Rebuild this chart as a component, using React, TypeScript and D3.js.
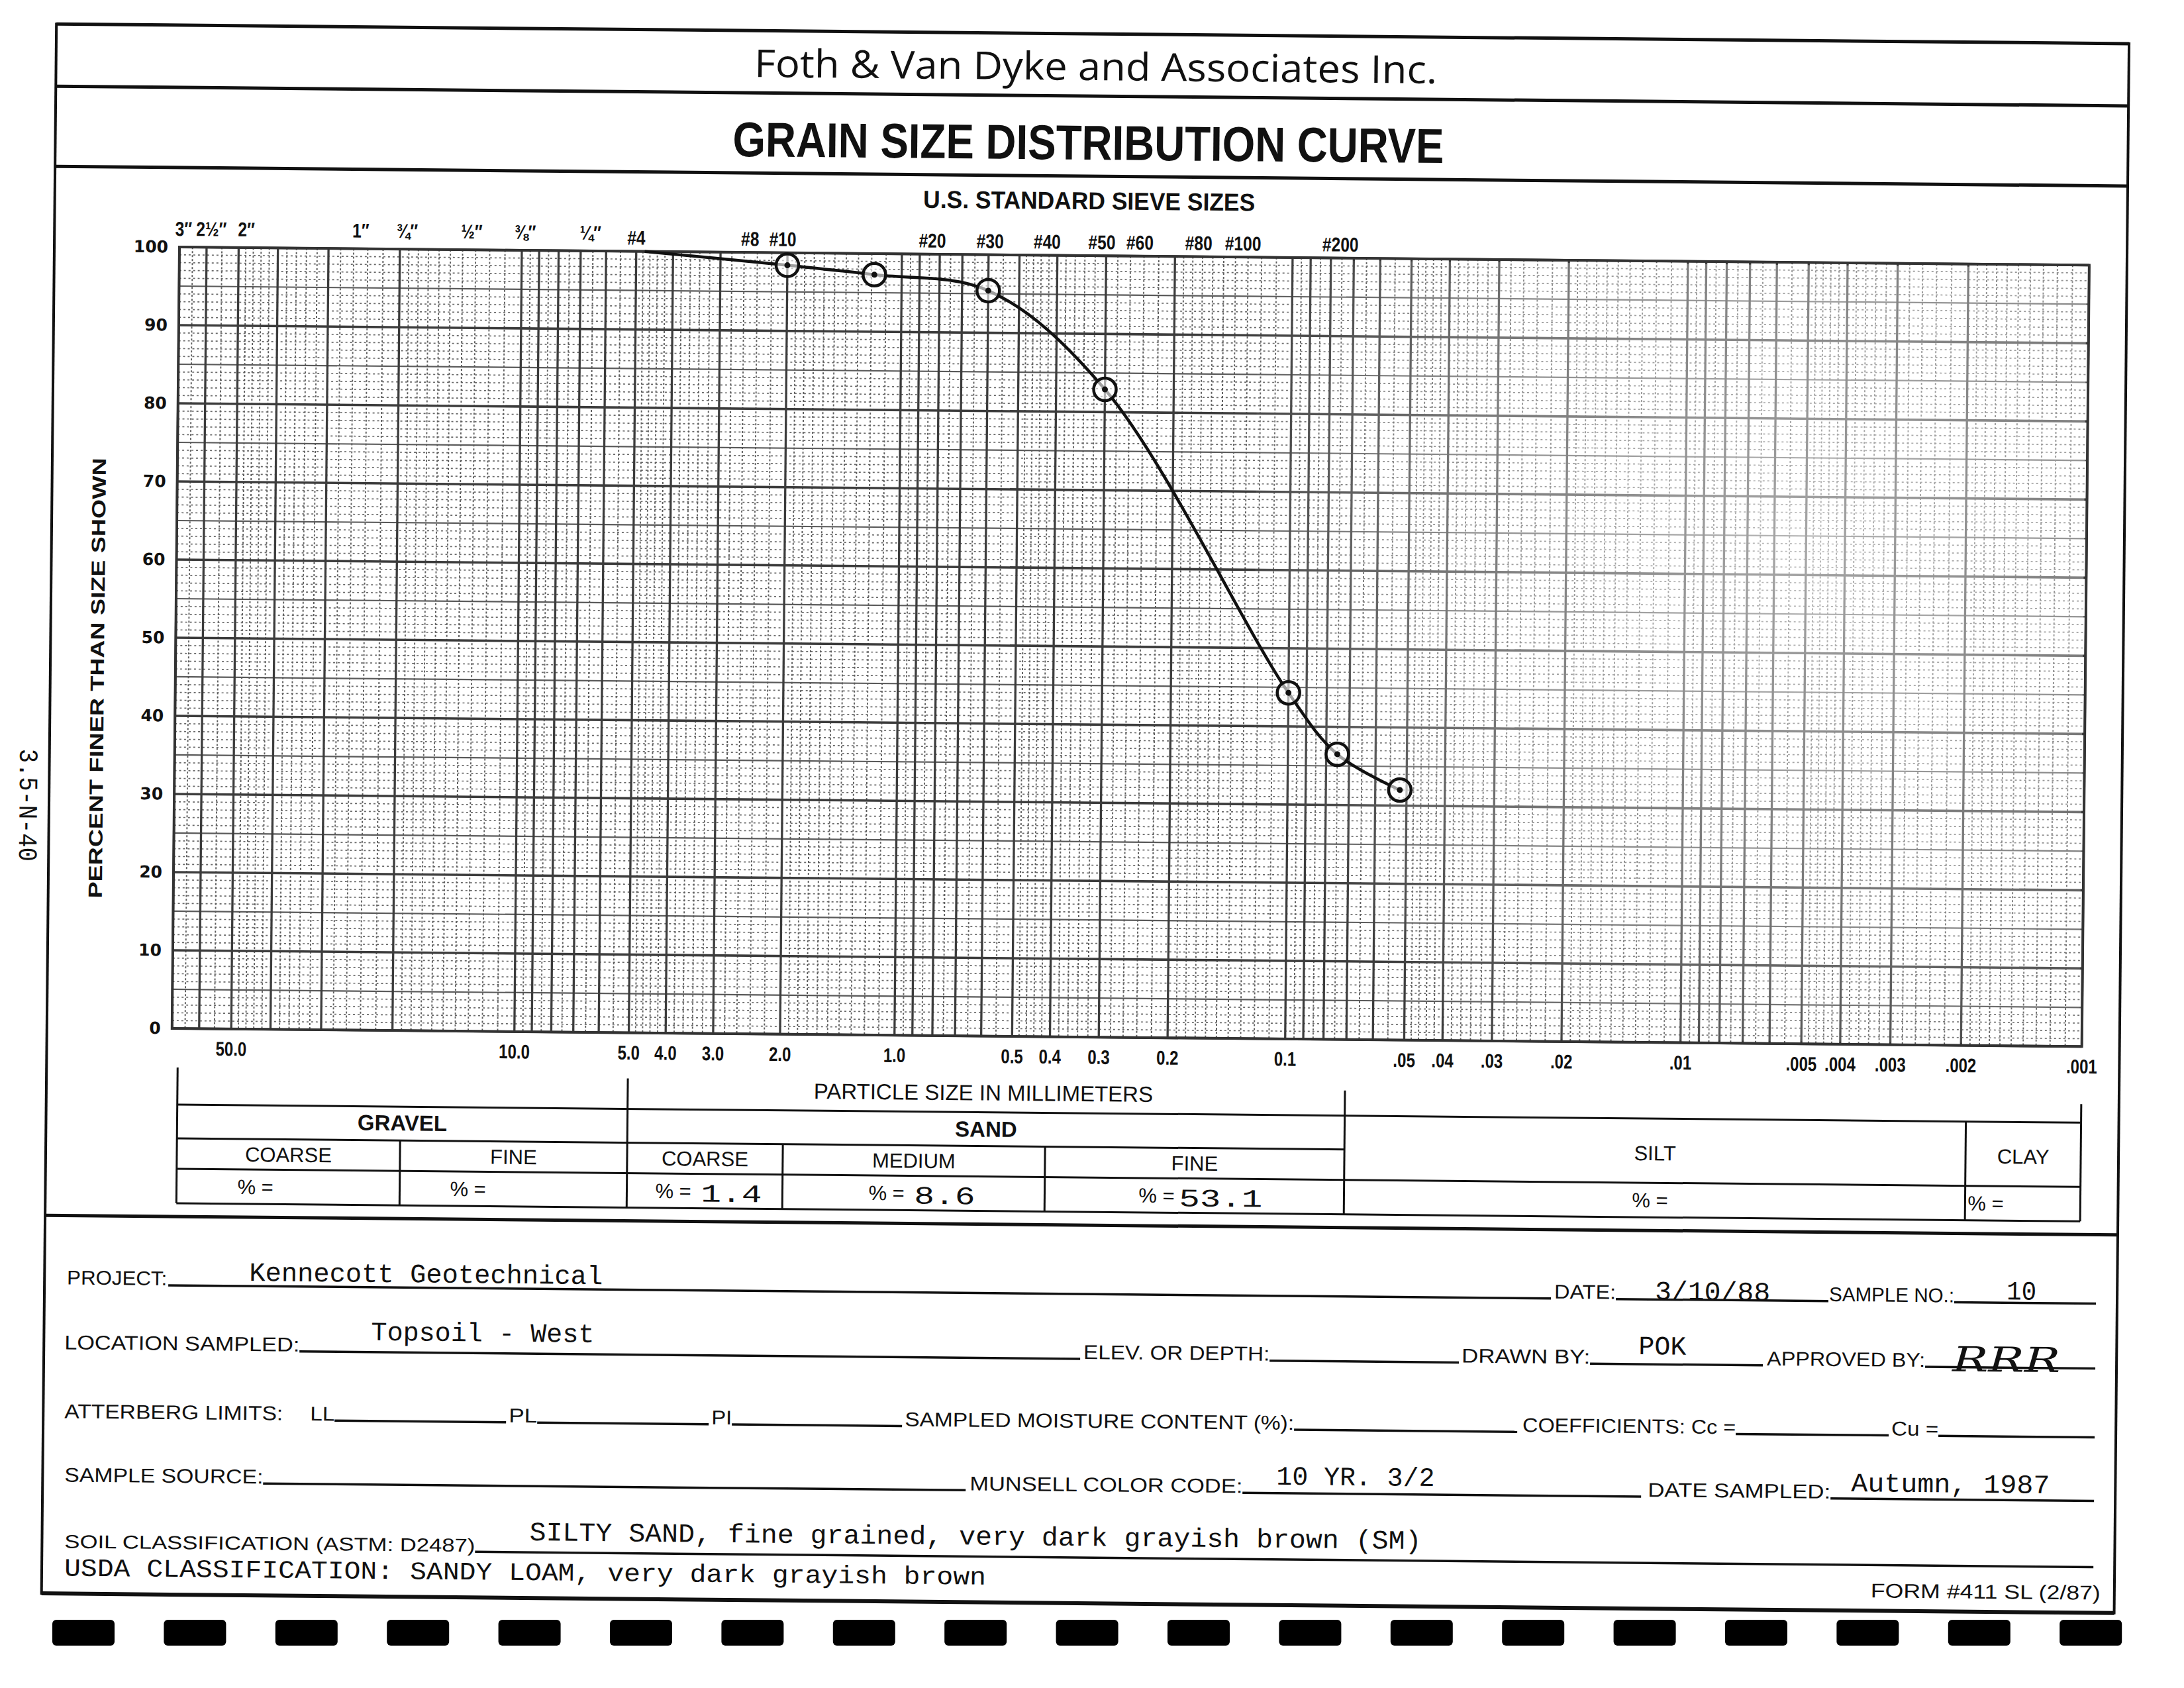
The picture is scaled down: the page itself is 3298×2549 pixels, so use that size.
import React from "react";
import * as d3 from "d3";

const W = 3298;
const H = 2549;

// ---------------- data ----------------
const sieveSizeMm = [4.75, 2.0, 1.18, 0.6, 0.3, 0.1, 0.075, 0.052];
const percentFiner = [100, 98.4, 97.3, 95.4, 82.9, 44.3, 36.5, 32.0];
const circled = [false, true, true, true, true, true, true, true];

const percentTicks = [0, 10, 20, 30, 40, 50, 60, 70, 80, 90, 100];

const mmTickValues = [50, 10, 5, 4, 3, 2, 1, 0.5, 0.4, 0.3, 0.2, 0.1, 0.05, 0.04, 0.03, 0.02, 0.01, 0.005, 0.004, 0.003, 0.002, 0.001];
const mmTickLabels = ["50.0", "10.0", "5.0", "4.0", "3.0", "2.0", "1.0", "0.5", "0.4", "0.3", "0.2", "0.1", ".05", ".04", ".03", ".02", ".01", ".005", ".004", ".003", ".002", ".001"];

const sieveNames = ["3\u2033", "2\u00bd\u2033", "2\u2033", "1\u2033", "\u00be\u2033", "\u00bd\u2033", "\u215c\u2033", "\u00bc\u2033", "#4", "#8", "#10", "#20", "#30", "#40", "#50", "#60", "#80", "#100", "#200"];
const sieveLabelMm = [68.4, 58.4, 47.9, 25.0, 19.2, 13.3, 9.8, 6.6, 5.0, 2.51, 2.06, 0.836, 0.595, 0.425, 0.308, 0.246, 0.174, 0.134, 0.0757];

const gravelCols = ["COARSE", "FINE"];
const sandCols = ["COARSE", "MEDIUM", "FINE"];
const gravelPct = ["", ""];
const sandPct = ["1.4", "8.6", "53.1"];
const siltPct = "";
const clayPct = "";

const project = "Kennecott Geotechnical";
const dateTested = "3/10/88";
const sampleNo = "10";
const location = "Topsoil - West";
const drawnBy = "POK";
const approvedBy = "RRR";
const munsell = "10 YR. 3/2";
const dateSampled = "Autumn, 1987";
const soilClass = "SILTY SAND, fine grained, very dark grayish brown (SM)";
const usdaClass = "USDA CLASSIFICATION: SANDY LOAM, very dark grayish brown";
const marginNote = "3.5-N-40";

// ---------------- layout ----------------
const xBreaksMm = [70, 10, 1, 0.1, 0.01, 0.001];
const xBreaksPx = [271, 788, 1362, 1952, 2549, 3155];
const PLOT_TOP = 373;
const PLOT_BOTTOM = 1553;
const TILT = 0.544;

const SANS = "'Liberation Sans', Arial, 'DejaVu Sans', sans-serif";
const MONO = "'Liberation Mono', 'DejaVu Sans Mono', monospace";
const WIDE = "'DejaVu Sans', sans-serif";
const HUMAN = "'Open Sans', Lato, sans-serif";
const INK = "#111";

type TP = {
  x: number; y: number; size: number; anchor?: string; weight?: number | string;
  family?: string; len?: number; children: React.ReactNode; style?: string; rotate?: number;
  central?: boolean; sx?: number;
};
const T = ({ x, y, size, anchor = "start", weight = 400, family = SANS, len, children, style, rotate, central, sx }: TP) => {
  let tr = `translate(${x} ${y})`;
  if (rotate) tr += ` rotate(${rotate})`;
  if (sx) tr += ` scale(${sx} 1)`;
  return (
    <text
      x={0}
      y={0}
      fontSize={size}
      fontFamily={family}
      fontWeight={weight}
      fontStyle={style}
      textAnchor={anchor}
      dominantBaseline={central ? "central" : undefined}
      fill={INK}
      textLength={len}
      lengthAdjust={len ? "spacingAndGlyphs" : undefined}
      transform={tr}
    >
      {children}
    </text>
  );
};

const HL = ({ x1, x2, y, w = 3 }: { x1: number; x2: number; y: number; w?: number }) => (
  <line x1={x1} x2={x2} y1={y} y2={y} stroke={INK} strokeWidth={w} />
);
const VL = ({ x, y1, y2, w = 3 }: { x: number; y1: number; y2: number; w?: number }) => (
  <line x1={x} x2={x} y1={y1} y2={y2} stroke={INK} strokeWidth={w} />
);

export default function App() {
  const x = d3.scaleLog().domain(xBreaksMm).range(xBreaksPx);
  const y = d3.scaleLinear().domain([0, 100]).range([PLOT_BOTTOM, PLOT_TOP]);
  const L = x(70);
  const R = x(0.001);

  // grid values
  const majorV: number[] = [];
  const minorV: number[] = [];
  [0.001, 0.01, 0.1, 1, 10].forEach((b) => {
    for (let m = 1; m <= 9; m++) {
      const v = m * b;
      if (v > 70.0001) continue;
      majorV.push(v);
      const step = m < 2 ? 0.1 : m < 5 ? 0.2 : 0.5;
      for (let s = m + step; s < m + 1 - 1e-6; s += step) {
        const vv = s * b;
        if (vv < 70) minorV.push(vv);
      }
    }
  });
  const majorH = d3.range(0, 101, 10);
  const midH = d3.range(5, 100, 10);
  const minorH = d3.range(0, 101, 1).filter((p) => p % 5 !== 0);

  const idx = d3.range(sieveSizeMm.length);
  const curve = d3
    .line<number>()
    .x((i) => x(sieveSizeMm[i]))
    .y((i) => y(percentFiner[i]))
    .curve(d3.curveCatmullRom.alpha(0.5))(idx) as string;

  // form layout
  const FL = 82, FR = 3212;
  const rows: { y: number; labels: [string, number, number][]; lines: [number, number][] }[] = [
    { y: 1941, labels: [["PROJECT:", 116, 267], ["DATE:", 2362, 2455], ["SAMPLE NO.:", 2777, 2966]], lines: [[269, 2357], [2455, 2776], [2966, 3180]] },
    { y: 2039, labels: [["LOCATION SAMPLED:", 113, 468], ["ELEV. OR DEPTH:", 1652, 1933], ["DRAWN BY:", 2223, 2417], ["APPROVED BY:", 2684, 2923]], lines: [[468, 1647], [1933, 2219], [2417, 2678], [2923, 3180]] },
    { y: 2143, labels: [["ATTERBERG LIMITS:", 114, 444], ["LL", 485, 522], ["PL", 785, 828], ["PI", 1091, 1122], ["SAMPLED MOISTURE CONTENT (%):", 1383, 1971], ["COEFFICIENTS: Cc =", 2316, 2638], ["Cu =", 2873, 2944]], lines: [[522, 781], [828, 1087], [1122, 1379], [1971, 2308], [2638, 2869], [2944, 3180]] },
    { y: 2239, labels: [["SAMPLE SOURCE:", 115, 415], ["MUNSELL COLOR CODE:", 1482, 1894], ["DATE SAMPLED:", 2506, 2782]], lines: [[415, 1476], [1894, 2496], [2782, 3180]] },
    { y: 2339, labels: [["SOIL CLASSIFICATION (ASTM: D2487)", 116, 736]], lines: [[736, 3180]] },
  ];
  const typed: [string, number, number, number][] = [
    [project, 391, 925, 1933],
    [dateTested, 2514, 2688, 1941],
    [sampleNo, 3045, 3090, 1936],
    [location, 576, 913, 2021],
    [drawnBy, 2490, 2562, 2024],
    [munsell, 1945, 2184, 2226],
    [dateSampled, 2813, 3113, 2228],
    [soilClass, 818, 2165, 2321],
    [usdaClass, 116, 1508, 2381],
  ];

  // table layout
  const tL = 280, tG = 960, tS = 2043, tC = 2981, tR = 3155;
  const ty1 = 1668, ty2 = 1719, ty3 = 1765, ty4 = 1817;
  const gravelX = [tL, 617, tG];
  const sandX = [tG, 1195, 1591, tS];
  const pctX = { gravel: [372, 693], sand: [1003, 1325, 1733], silt: 2478, clay: 2985 };
  const sandValX = [[1072, 1164], [1394, 1486], [1794, 1920]];

  const sprockets = d3.range(19).map((i) => 126 + i * 168.4);

  return (
    <svg width={W} height={H} viewBox={`0 0 ${W} ${H}`} style={{ position: "absolute", left: 0, top: 0, background: "#fff" }}>
      <defs>
        <radialGradient id="fade" cx={2720} cy={800} r={900} gradientUnits="userSpaceOnUse">
          <stop offset="0" stopColor="#fff" stopOpacity={0.55} />
          <stop offset="0.6" stopColor="#fff" stopOpacity={0.3} />
          <stop offset="1" stopColor="#fff" stopOpacity={0} />
        </radialGradient>
      </defs>
      <rect x={0} y={0} width={W} height={H} fill="#fff" />
      <g transform={`rotate(${TILT} ${L} ${PLOT_TOP})`}>
        {/* outer frame and header */}
        <HL x1={FL} x2={FR} y={38} w={5} />
        <HL x1={FL} x2={FR} y={132} w={5} />
        <HL x1={FL} x2={FR} y={253} w={5} />
        <HL x1={FL} x2={FR} y={1837} w={5} />
        <HL x1={FL} x2={FR} y={2408} w={6} />
        <VL x={FL} y1={36} y2={2410} w={4} />
        <VL x={FR} y1={36} y2={2410} w={4} />

        <T x={1652} y={108} size={58} anchor="middle" family={HUMAN} len={1031}>Foth &amp; Van Dyke and Associates Inc.</T>
        <T x={1642} y={228} size={74} anchor="middle" weight={700} len={1074}>GRAIN SIZE DISTRIBUTION CURVE</T>
        <T x={1644} y={303} size={37} anchor="middle" weight={700} len={501}>U.S. STANDARD SIEVE SIZES</T>

        {/* grid */}
        <g>
          {minorH.map((p) => (
            <line key={"mh" + p} x1={L} x2={R} y1={y(p)} y2={y(p)} stroke="#6a6a6a" strokeWidth={1.7} strokeDasharray="3 4" />
          ))}
          {minorV.map((v, i) => (
            <line key={"mv" + i} x1={x(v)} x2={x(v)} y1={PLOT_TOP} y2={PLOT_BOTTOM} stroke="#5e5e5e" strokeWidth={1.9} strokeDasharray="3 3" />
          ))}
          {midH.map((p) => (
            <line key={"dh" + p} x1={L} x2={R} y1={y(p)} y2={y(p)} stroke="#5a5a5a" strokeWidth={2.2} />
          ))}
          {majorH.map((p) => (
            <line key={"MH" + p} x1={L} x2={R} y1={y(p)} y2={y(p)} stroke="#3c3c3c" strokeWidth={3.6} />
          ))}
          {majorV.map((v, i) => (
            <line key={"MV" + i} x1={x(v)} x2={x(v)} y1={PLOT_TOP} y2={PLOT_BOTTOM} stroke="#3c3c3c" strokeWidth={3.3} />
          ))}
          <rect x={L} y={PLOT_TOP} width={R - L} height={PLOT_BOTTOM - PLOT_TOP} fill="none" stroke="#333" strokeWidth={4} />
          <rect x={1900} y={PLOT_TOP + 4} width={R - 1904} height={PLOT_BOTTOM - PLOT_TOP - 8} fill="url(#fade)" />
        </g>

        {/* y axis */}
        {percentTicks.map((p) => (
          <T key={"yt" + p} x={254} y={y(p)} size={25} anchor="end" weight={700} family={WIDE} central>
            {p}
          </T>
        ))}
        <T x={153} y={1025} size={29} anchor="middle" weight={700} len={665} rotate={-90} central>
          PERCENT FINER THAN SIZE SHOWN
        </T>
        <T x={48} y={1218} size={40} anchor="middle" family={MONO} len={170} rotate={90} central>
          {marginNote}
        </T>

        {/* sieve labels */}
        {sieveNames.map((s, i) => (
          <T key={"sv" + i} x={x(sieveLabelMm[i])} y={s.startsWith("#") ? 363 : 356} size={30} anchor="middle" weight={700} sx={0.82}>
            {s}
          </T>
        ))}

        {/* mm labels */}
        {mmTickValues.map((v, i) => (
          <T key={"mm" + i} x={x(v)} y={1583} size={30} anchor="middle" weight={700} central sx={0.8}>
            {mmTickLabels[i]}
          </T>
        ))}

        {/* curve */}
        <path d={curve} fill="none" stroke={INK} strokeWidth={4.5} />
        {idx
          .filter((i) => circled[i])
          .map((i) => (
            <g key={"pt" + i}>
              <circle cx={x(sieveSizeMm[i])} cy={y(percentFiner[i])} r={17} fill="#fff" fillOpacity={0.6} stroke={INK} strokeWidth={4.5} />
              <circle cx={x(sieveSizeMm[i])} cy={y(percentFiner[i])} r={4.5} fill={INK} />
            </g>
          ))}

        {/* gradation table */}
        <VL x={tL} y1={1612} y2={ty4} />
        <VL x={tG} y1={1622} y2={ty4} />
        <VL x={tS} y1={1630} y2={ty4} />
        <VL x={tR} y1={1640} y2={ty4} />
        <VL x={tC} y1={ty1} y2={ty4} />
        <HL x1={tL} x2={tR} y={ty1} />
        <HL x1={tL} x2={tS} y={ty2} />
        <HL x1={tL} x2={tR} y={ty3} />
        <HL x1={tL} x2={tR} y={ty4} />
        <VL x={gravelX[1]} y1={ty2} y2={ty4} />
        <VL x={sandX[1]} y1={ty2} y2={ty4} />
        <VL x={sandX[2]} y1={ty2} y2={ty4} />

        <T x={1497} y={1650} size={33} anchor="middle">PARTICLE SIZE IN MILLIMETERS</T>
        <T x={(tL + tG) / 2} y={1704} size={33} anchor="middle" weight={700}>GRAVEL</T>
        <T x={(tG + tS) / 2} y={1705} size={33} anchor="middle" weight={700}>SAND</T>
        <T x={(tS + tC) / 2} y={1731} size={31} anchor="middle">SILT</T>
        <T x={(tC + tR) / 2} y={1731} size={31} anchor="middle">CLAY</T>
        {gravelCols.map((c, i) => (
          <T key={"gc" + i} x={(gravelX[i] + gravelX[i + 1]) / 2} y={1753} size={31} anchor="middle">{c}</T>
        ))}
        {sandCols.map((c, i) => (
          <T key={"sc" + i} x={(sandX[i] + sandX[i + 1]) / 2} y={1753} size={31} anchor="middle">{c}</T>
        ))}
        {pctX.gravel.map((px, i) => (
          <g key={"gp" + i}>
            <T x={px} y={1802} size={31}>% =</T>
            <T x={px + 80} y={1807} size={36} family={MONO}>{gravelPct[i]}</T>
          </g>
        ))}
        {pctX.sand.map((px, i) => (
          <g key={"sp" + i}>
            <T x={px} y={1802} size={31}>% =</T>
            <T x={sandValX[i][0]} y={1807} size={38} family={MONO} len={sandValX[i][1] - sandValX[i][0]}>{sandPct[i]}</T>
          </g>
        ))}
        <T x={pctX.silt} y={1802} size={31}>% =</T>
        <T x={pctX.silt + 80} y={1807} size={36} family={MONO}>{siltPct}</T>
        <T x={pctX.clay} y={1802} size={31}>% =</T>
        <T x={pctX.clay + 80} y={1807} size={36} family={MONO}>{clayPct}</T>

        {/* form */}
        {rows.map((r, ri) => (
          <g key={"row" + ri}>
            {r.labels.map(([s, a, b], k) => (
              <T key={k} x={a} y={r.y} size={ri === 4 ? 28 : 30} len={b - a}>{s}</T>
            ))}
            {r.lines.map(([a, b], k) => (
              <HL key={"l" + k} x1={a} x2={b} y={r.y} w={3.5} />
            ))}
          </g>
        ))}
        {typed.map(([s, a, b, yy], k) => (
          <T key={"ty" + k} x={a} y={yy} size={k === 8 ? 38 : 40} family={MONO} len={b - a}>{s}</T>
        ))}
        <T x={2964} y={2045} size={52} family="'DejaVu Serif', serif" style="italic" len={163}>{approvedBy}</T>
        <T x={2844} y={2388} size={30} len={347}>FORM #411 SL  (2/87)</T>
      </g>

      {/* tractor-feed marks */}
      {sprockets.map((cx, i) => (
        <rect key={"sp" + i} x={cx - 47} y={2446} width={94} height={39} rx={6} fill="#000" />
      ))}
    </svg>
  );
}
